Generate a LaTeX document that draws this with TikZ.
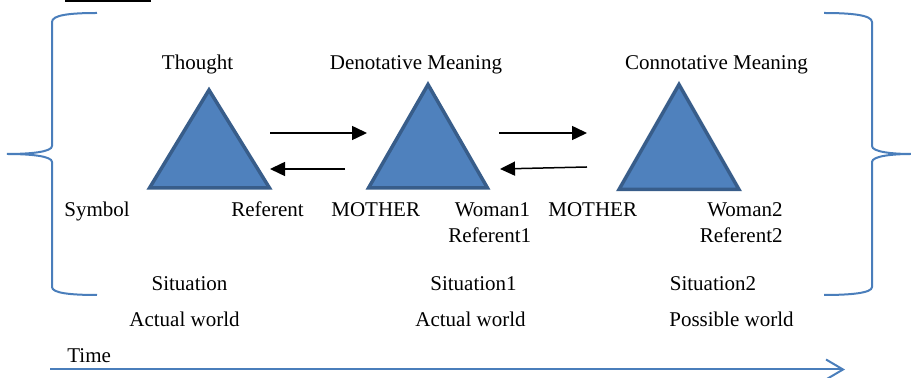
\documentclass[tikz,border=0pt]{standalone}
\usepackage{fontspec}
\setmainfont{Liberation Serif}
\usepackage{xcolor}
\definecolor{triblue}{RGB}{79,129,189}
\definecolor{triedge}{RGB}{56,93,138}
\definecolor{linkblue}{RGB}{74,126,187}
\usepackage{tikz}
\usetikzlibrary{
  shapes.geometric,
  arrows.meta,
  positioning
}

\begin{document}
\begin{tikzpicture}[
  x=0.5pt, y=-0.5pt,
  lbl/.style={inner sep=0pt, font=\fontsize{10.5}{12.6}\selectfont},
  tri/.style={draw=triedge, fill=triblue, line width=1.75pt, line join=miter},
  arr/.style={-{Triangle[length=7.5pt, width=7pt]}, line width=0.75pt, black},
  brace/.style={draw=linkblue, line width=1pt},
  timeline/.style={-{Straight Barb[length=8.5pt, width=10pt]}, line width=1pt, linkblue}
]
  \useasboundingbox (0,0) rectangle (911,378);

  % cropped caption rule
  \draw[line width=1pt] (65,1) -- (151,1);

  % braces
  \draw[brace] (97,13) .. controls (70,13) and (52,15) .. (52,22) -- (52,146)
    .. controls (52,152) and (30,154) .. (7,154)
    .. controls (30,154) and (52,156) .. (52,162) -- (52,287)
    .. controls (52,293) and (70,295) .. (97,295);
  \draw[brace] (824,13) .. controls (851,13) and (872,15) .. (872,22) -- (872,146)
    .. controls (872,152) and (893,154) .. (911,154)
    .. controls (893,154) and (872,156) .. (872,162) -- (872,287)
    .. controls (872,293) and (851,295) .. (824,295);

  % triangles
  \draw[tri] (209,90) -- (269.5,188) -- (149.5,188) -- cycle;
  \draw[tri] (428,84.5) -- (487.5,188) -- (368.5,188) -- cycle;
  \draw[tri] (679,84.5) -- (739,189.5) -- (619,189.5) -- cycle;

  % labels
  \node[lbl, anchor=base] (thought) at (197.5,70) {Thought};
  \node[lbl, anchor=base] (denot) at (416,70) {Denotative Meaning};
  \node[lbl, anchor=base] (connot) at (716.5,70) {Connotative Meaning};

  \node[lbl, anchor=base west] (sym) at (64,217) {Symbol};
  \node[lbl, anchor=base west] (ref) at (231,217) {Referent};
  \node[lbl, anchor=base west] (mother1) at (331,217) {MOTHER};
  \node[lbl, anchor=base east] (woman1) at (530.5,217) {Woman1};
  \node[lbl, anchor=base east] (ref1) at (531.5,242.5) {Referent1};
  \node[lbl, anchor=base west] (mother2) at (548,217) {MOTHER};
  \node[lbl, anchor=base east] (woman2) at (783,217) {Woman2};
  \node[lbl, anchor=base east] (ref2) at (783,242.5) {Referent2};

  \node[lbl, anchor=base] (sit) at (189.5,291) {Situation};
  \node[lbl, anchor=base] (sit1) at (473.5,291) {Situation1};
  \node[lbl, anchor=base] (sit2) at (713,291) {Situation2};
  \node[lbl, anchor=base] (world) at (184.5,327) {Actual world};
  \node[lbl, anchor=base] (world1) at (470.5,327) {Actual world};
  \node[lbl, anchor=base] (world2) at (731.5,327) {Possible world};

  \node[lbl, anchor=base west] (time) at (67,363) {Time};

  % arrows between triangles
  \coordinate (fwd1s) at (270,133);
  \coordinate (fwd1e) at (367,133);
  \coordinate (back1s) at (345,169);
  \coordinate (back1e) at (270,169);
  \coordinate (fwd2s) at (499,133);
  \coordinate (fwd2e) at (587,133);
  \coordinate (back2s) at (587,167);
  \coordinate (back2e) at (500,169);
  \draw[arr] (fwd1s) -- (fwd1e);
  \draw[arr] (back1s) -- (back1e);
  \draw[arr] (fwd2s) -- (fwd2e);
  \draw[arr] (back2s) -- (back2e);

  % time axis
  \coordinate (tstart) at (50,369.5);
  \coordinate (tend) at (845,369.5);
  \draw[timeline] (tstart) -- (tend);
\end{tikzpicture}
\end{document}
